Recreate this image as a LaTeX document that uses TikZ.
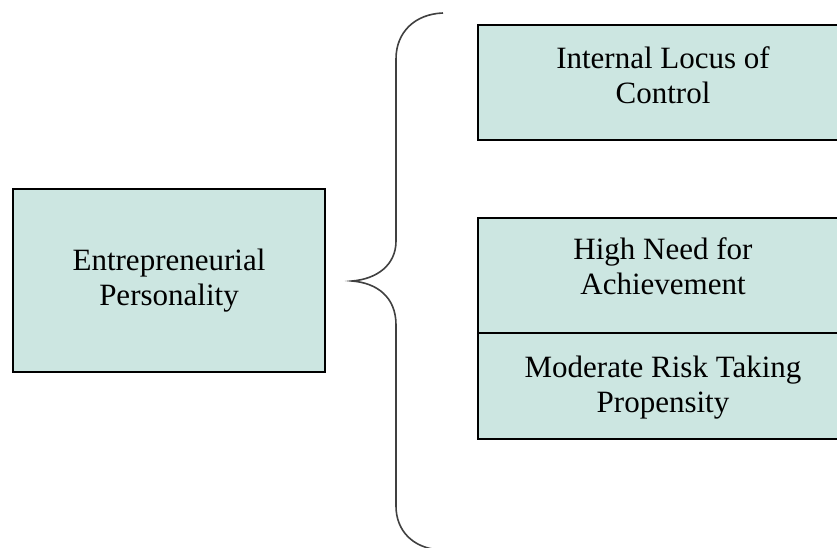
\documentclass[tikz,border=0pt]{standalone}
\usepackage{fontspec}
\setmainfont{Liberation Serif}
\usetikzlibrary{positioning}
\definecolor{traitfill}{RGB}{204,230,225}
\tikzset{
  trait/.style={draw=black,line width=1.8pt,fill=traitfill,minimum width=370pt,inner sep=0pt},
  traittext/.style={align=center,inner sep=0pt,font=\fontsize{31}{35}\selectfont},
}
\begin{document}
\begin{tikzpicture}[x=1pt,y=-1pt]
                \useasboundingbox (0,0) rectangle (837,548);
                \clip (0,0) rectangle (837,548);
                % personality on the left
                \node[trait,traittext,minimum width=312pt,minimum height=183pt] (pers) at (169,280.5) {Entrepreneurial\\Personality};
                % traits on the right
                \node[trait,minimum height=115pt] (locus) at (663,82.5) {};
                \node[trait,minimum height=115pt] (achieve) at (663,275.5) {};
                \node[trait,minimum height=106pt] (risk) at (663,386) {};
                \node[traittext,below=22pt of locus.north] (locustext) {Internal Locus of\\Control};
                \node[traittext,below=20pt of achieve.north] (achievetext) {High Need for\\Achievement};
                \node[traittext,below=24pt of risk.north] (risktext) {Moderate Risk Taking\\Propensity};
                % brace
                \coordinate (bt) at (443,13);
                \coordinate (bm) at (352,281);
                \coordinate (bb) at (440,550);
                \draw[line width=1.6pt,black!75] (bt) .. controls (415,14) and (396,32) .. (396,59) -- (396,241)
                    .. controls (396,265) and (377,279) .. (bm)
                    .. controls (377,283) and (396,297) .. (396,325) -- (396,506)
                    .. controls (396,530) and (412,548) .. (bb);
            \end{tikzpicture}
\end{document}
